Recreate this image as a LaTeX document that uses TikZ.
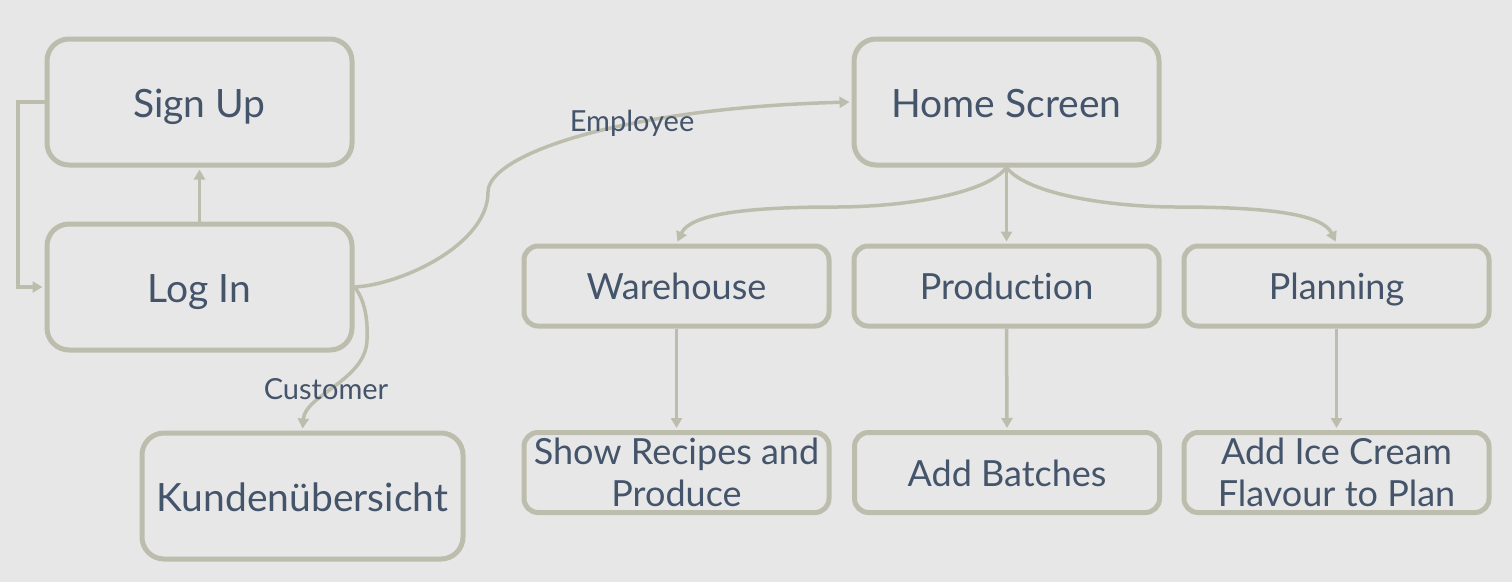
\documentclass[tikz,border=0pt]{standalone}
\usepackage{fontspec}
\setmainfont{Lato}[Ligatures=NoCommon]
\usetikzlibrary{arrows.meta}
\definecolor{bg}{HTML}{E7E7E7}
\definecolor{edgecol}{HTML}{BDBDAE}
\definecolor{txt}{HTML}{44546A}
\begin{document}
\begin{tikzpicture}[x=1pt,y=-1pt,
 bigbox/.style={draw=edgecol,line width=5pt,rounded corners=22pt,minimum width=305pt,minimum height=126pt,inner sep=0pt,text=txt,font=\fontsize{39}{46}\selectfont,align=center,text height=31pt,text depth=0pt},
 smallbox/.style={draw=edgecol,line width=5pt,rounded corners=14pt,minimum width=305pt,minimum height=80pt,inner sep=0pt,text=txt,font=\fontsize{36}{42}\selectfont,align=center},
 oneline/.style={text height=27pt,text depth=0pt},
 conn/.style={draw=edgecol,line width=3.5pt,-{Triangle[length=10pt,width=11pt]},shorten >=2pt},
 lab/.style={text=txt,font=\fontsize{29}{34}\selectfont,inner sep=0pt}]
\fill[bg] (0,0) rectangle (1512,582);
\useasboundingbox (0,0) rectangle (1512,582);

\node[bigbox] (signup) at (199.5,102) {Sign Up};
\node[bigbox] (login) at (199.5,287) {Log In};
\node[bigbox,minimum width=321pt] (kunden) at (302.5,496) {Kundenübersicht};
\node[bigbox] (home) at (1006.5,102) {Home Screen};
\node[smallbox,oneline] (ware) at (676.5,286) {Warehouse};
\node[smallbox,oneline] (prod) at (1006.5,286) {Production};
\node[smallbox,oneline] (plan) at (1336.5,286) {Planning};
\node[smallbox] (recipes) at (676.5,472.5) {Show Recipes and\\Produce};
\node[smallbox,oneline] (batch) at (1007,472.5) {Add Batches};
\node[smallbox] (ice) at (1336.5,472.5) {Add Ice Cream\\Flavour to Plan};

\coordinate (c1) at (18,102);
\coordinate (c2) at (18,287);
\draw[conn] (signup.west) -- (c1) -- (c2) -- (login.west);
\draw[conn] (login.north) -- (signup.south);

\draw[conn] (login.east) .. controls (400,285) and (488,245) .. (488,192)
  .. controls (488,155) and (620,108) .. (home.west);
\node[lab] (emp) at (632,123) {Employee};

\draw[conn] (login.east) .. controls (365,300) and (368,320) .. (367,340)
  .. controls (366,380) and (305,395) .. (kunden.north);
\node[lab] (cust) at (326,389) {Customer};

\draw[conn] (home.south) .. controls (985,195) and (900,207) .. (836,207)
  .. controls (740,207) and (690,215) .. (ware.north);
\draw[conn] (home.south) .. controls (1028,195) and (1113,207) .. (1177,207)
  .. controls (1273,207) and (1323,215) .. (plan.north);
\draw[conn] (home.south) -- (prod.north);

\draw[conn] (ware.south) -- (recipes.north);
\draw[conn] (prod.south) -- (batch.north);
\draw[conn] (plan.south) -- (ice.north);
\end{tikzpicture}
\end{document}
